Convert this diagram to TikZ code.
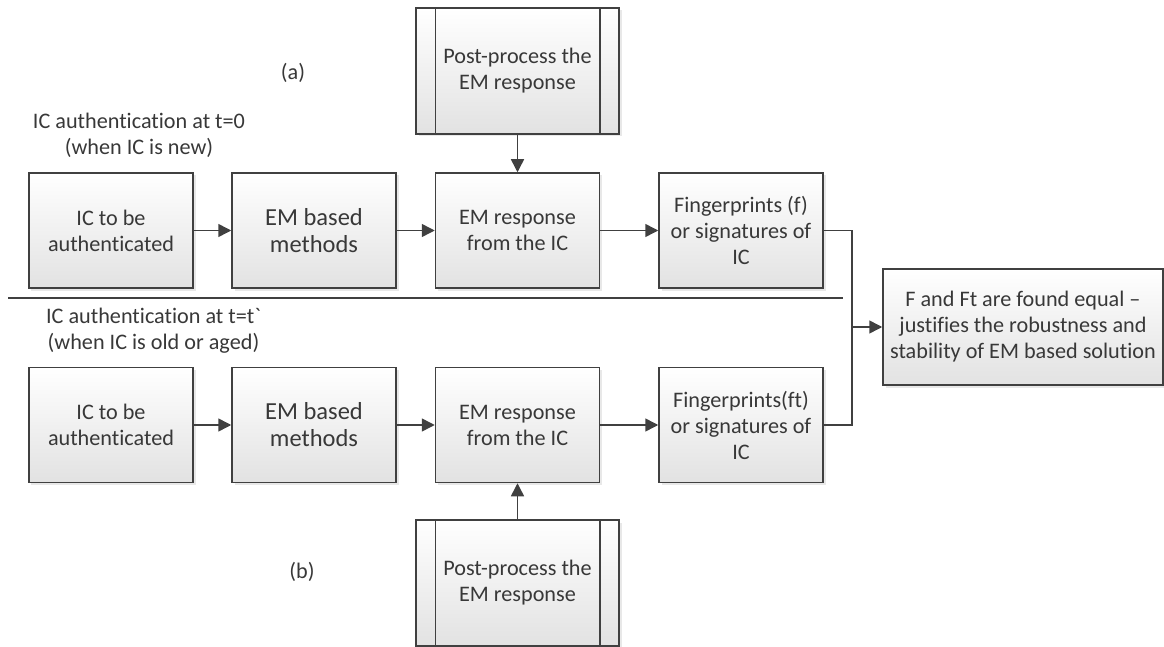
\documentclass[tikz,border=0pt]{standalone}
\usepackage{fontspec}
\newfontfamily\carlito{Carlito}[Ligatures=NoCommon]
\usetikzlibrary{arrows.meta,shadows}
\definecolor{ln}{HTML}{404040}
\definecolor{tx}{HTML}{383838}
\definecolor{bot}{HTML}{E2E2E2}
\tikzset{
  box/.style={draw=ln, line width=1.5bp, rectangle, top color=white, bottom color=bot,
    text=tx, align=center, inner sep=0pt,
    font=\carlito\fontsize{22.2bp}{26bp}\selectfont,
    drop shadow={shadow xshift=2.5bp, shadow yshift=-2.5bp, opacity=0.18}},
  stdbox/.style={box, minimum width=164bp, minimum height=115bp},
  bigtext/.style={font=\carlito\fontsize{24.5bp}{27bp}\selectfont},
  ppbox/.style={box, minimum width=203bp, minimum height=126bp},
  resbox/.style={box, minimum width=280bp, minimum height=116bp},
  conn/.style={draw=ln, line width=1.5bp, -{Triangle[length=13bp,width=13bp]}},
  wire/.style={draw=ln, line width=1.5bp},
  lbl/.style={text=tx, align=center, inner sep=0pt,
    font=\carlito\fontsize{22.2bp}{26bp}\selectfont},
}
\begin{document}
\begin{tikzpicture}[x=1bp,y=-1bp]
\useasboundingbox (0,0) rectangle (1164,647);

% labels
\node[lbl] (la) at (293,73) {(a)};
\node[lbl] (t0) at (139,135) {IC authentication at t=0\\(when IC is new)};
\node[lbl] (tt) at (153.5,330.5) {IC authentication at t=t`\\(when IC is old or aged)};
\node[lbl] (lb) at (302,572) {(b)};

% separator
\coordinate (s1) at (8,298);
\coordinate (s2) at (843,298);
\draw[wire] (s1) -- (s2);

% top row
\node[ppbox] (ppa) at (517.5,71) {Post-process the\\EM response};
\draw[wire] ([xshift=20bp]ppa.north west) -- ([xshift=20bp]ppa.south west);
\draw[wire] ([xshift=-20bp]ppa.north east) -- ([xshift=-20bp]ppa.south east);
\node[stdbox] (a1) at (111,230.5) {IC to be\\authenticated};
\node[stdbox,bigtext] (a2) at (314,230.5) {EM based\\methods};
\node[stdbox] (a3) at (517.5,230.5) {EM response\\from the IC};
\node[stdbox] (a4) at (741,230.5) {Fingerprints (f)\\or signatures of\\IC};

% bottom row
\node[stdbox] (b1) at (111,425) {IC to be\\authenticated};
\node[stdbox,bigtext] (b2) at (314,425) {EM based\\methods};
\node[stdbox] (b3) at (517.5,425) {EM response\\from the IC};
\node[stdbox] (b4) at (741,425) {Fingerprints(ft)\\or signatures of\\IC};
\node[ppbox] (ppb) at (517.5,583) {Post-process the\\EM response};
\draw[wire] ([xshift=20bp]ppb.north west) -- ([xshift=20bp]ppb.south west);
\draw[wire] ([xshift=-20bp]ppb.north east) -- ([xshift=-20bp]ppb.south east);

% result
\node[resbox] (res) at (1023,327) {F and Ft are found equal –\\justifies the robustness and\\stability of EM based solution};

% connectors
\draw[conn] (a1) -- (a2);
\draw[conn] (a2) -- (a3);
\draw[conn] (a3) -- (a4);
\draw[conn] (ppa) -- (a3);
\draw[conn] (b1) -- (b2);
\draw[conn] (b2) -- (b3);
\draw[conn] (b3) -- (b4);
\draw[conn] (ppb) -- (b3);
\coordinate (jn) at (852,327);
\draw[wire] (a4.east) -| (jn);
\draw[wire] (b4.east) -| (jn);
\draw[conn] (jn) -- (res.west);
\end{tikzpicture}
\end{document}
